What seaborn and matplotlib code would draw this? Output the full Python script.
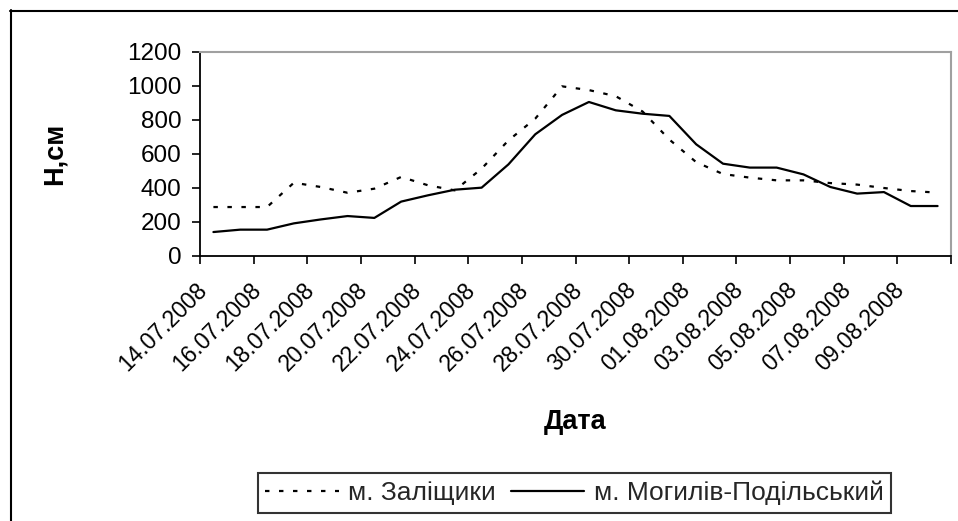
import numpy as np
import pandas as pd
import matplotlib
matplotlib.use("Agg")
import matplotlib.pyplot as plt
import matplotlib.transforms as mtransforms
import seaborn as sns
from matplotlib.lines import Line2D

# ---- data ----
dates = ["14.07.2008", "15.07.2008", "16.07.2008", "17.07.2008", "18.07.2008", "19.07.2008",
         "20.07.2008", "21.07.2008", "22.07.2008", "23.07.2008", "24.07.2008", "25.07.2008",
         "26.07.2008", "27.07.2008", "28.07.2008", "29.07.2008", "30.07.2008", "31.07.2008",
         "01.08.2008", "02.08.2008", "03.08.2008", "04.08.2008", "05.08.2008", "06.08.2008",
         "07.08.2008", "08.08.2008", "09.08.2008", "10.08.2008"]
zalishchyky = [288, 288, 288, 431, 406, 372, 396, 465, 416, 386, 514, 680, 808, 998,
               976, 940, 850, 685, 552, 482, 461, 445, 445, 429, 420, 400, 382, 373]
mohyliv = [141, 155, 155, 192, 215, 235, 224, 320, 357, 390, 402, 539, 716, 830,
           906, 857, 837, 824, 657, 543, 520, 520, 480, 406, 367, 376, 294, 294]
tick_labels = dates[::2]
series_names = ["м. Заліщики", "м. Могилів-Подільський"]

sns.set_theme(style="white")
plt.rcParams["font.family"] = ["Liberation Sans", "DejaVu Sans"]

W, H = 958, 521
fig = plt.figure(figsize=(W / 100, H / 100), dpi=100)
ax = fig.add_axes([200 / W, 1 - 256 / H, 751 / W, 204 / H])

x = np.arange(len(dates))
sns.lineplot(x=x, y=zalishchyky, ax=ax, color="black", lw=1.6,
             linestyle=(0, (2, 4.3)), label=series_names[0])
sns.lineplot(x=x, y=mohyliv, ax=ax, color="black", lw=1.6, label=series_names[1])

ax.set_xlim(-0.5, len(dates) - 0.5)
ax.set_ylim(0, 1200)
ax.set_yticks(np.arange(0, 1201, 200))
ax.tick_params(axis="y", which="major", left=True, length=5.5, width=1.2,
               color="black", direction="out", labelsize=17.5, pad=8, labelcolor="black")

ax.set_xticks(x[::2])
ax.set_xticklabels(tick_labels, rotation=45, ha="right", rotation_mode="anchor")
ax.set_xticks(np.arange(-0.5, len(dates), 2), minor=True)
ax.tick_params(axis="x", which="major", bottom=True, length=0, labelsize=16.5, pad=14,
               labelcolor="black")
ax.tick_params(axis="x", which="minor", bottom=True, length=5.5, width=1.2,
               color="black", direction="out")
offset = mtransforms.ScaledTranslation(-18 / 100, -3 / 100, fig.dpi_scale_trans)
for lbl in ax.get_xticklabels():
    lbl.set_transform(lbl.get_transform() + offset)

for s in ["left", "bottom"]:
    ax.spines[s].set_color("black")
    ax.spines[s].set_linewidth(1.3)
for s in ["top", "right"]:
    ax.spines[s].set_color("#a0a0a0")
    ax.spines[s].set_linewidth(1.5)
ax.grid(False)

ax.set_xlabel("Дата", fontsize=19.5, fontweight="bold", color="black")
ax.xaxis.label.set_va("center")
ax.xaxis.set_label_coords((575 - 200) / 751, (256 - 422) / 204)
ax.set_ylabel("Н,см", fontsize=19.5, fontweight="bold", color="black")
ax.yaxis.label.set_va("center")
ax.yaxis.set_label_coords((55 - 200) / 751, 0.5)

handles, labels = ax.get_legend_handles_labels()
if ax.get_legend() is not None:
    ax.get_legend().remove()
leg = fig.legend(handles, labels, loc="center", bbox_to_anchor=(574.5 / W, 1 - 493 / H),
                 ncol=2, frameon=True, fancybox=False, edgecolor="#333333", fontsize=19,
                 handlelength=2.77, handletextpad=0.35, columnspacing=0.6,
                 borderpad=0.3, framealpha=1, borderaxespad=0)
leg.get_frame().set_linewidth(1.5)

# outer chart border
fig.add_artist(Line2D([10.5 / W, 10.5 / W], [1 - 10 / H, 0], transform=fig.transFigure,
                      color="black", lw=1.5))
fig.add_artist(Line2D([10 / W, 1], [1 - 10.5 / H, 1 - 10.5 / H], transform=fig.transFigure,
                      color="black", lw=1.5))

fig.savefig("out.png", dpi=100, facecolor="white")
